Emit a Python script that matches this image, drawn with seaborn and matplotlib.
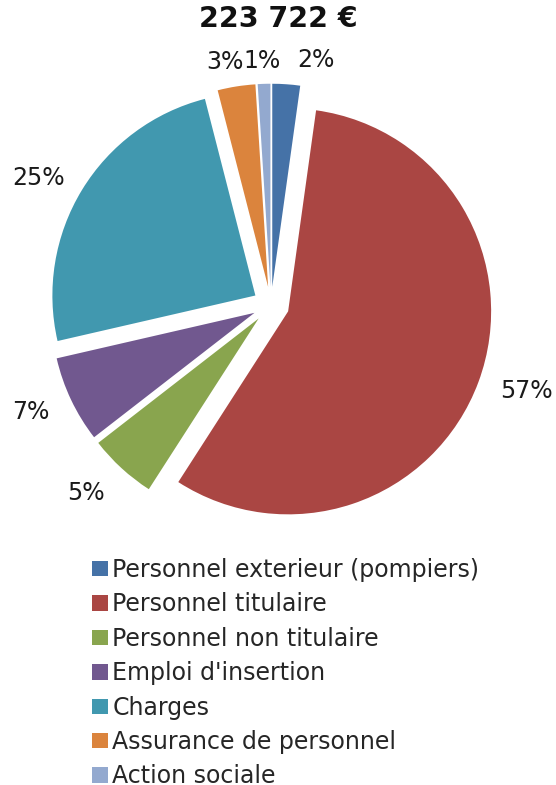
import numpy as np
import matplotlib
matplotlib.use('Agg')
import matplotlib.pyplot as plt
import seaborn as sns

sns.set_style('white')
plt.rcParams['font.family'] = ['DejaVu Sans']

# data (shares in %, total 223 722 €)
total_label = '223 722 €'
categories = ['Personnel exterieur (pompiers)', 'Personnel titulaire',
              'Personnel non titulaire', "Emploi d'insertion", 'Charges',
              'Assurance de personnel', 'Action sociale']
shares = [2.2, 56.9, 5.4, 6.9, 24.6, 3.0, 1.0]

colors = sns.color_palette(['#4572A7', '#AA4643', '#89A54E', '#71588F',
                            '#4198AF', '#DB843D', '#93A9CF'])

# label placement (style): radius factor and angular nudge per slice
label_radius = [1.14, 1.235, 1.21, 1.205, 1.215, 1.13, 1.115]
label_turn = [-7.0, 1.9, -2.1, -1.5, 3.0, 1.8, 0.3]

W, H = 556, 785
R = 203.0   # pie radius in px
cx, cy = 271, 305  # pie center in px from top-left
half = 1.35

fig = plt.figure(figsize=(W / 100, H / 100), dpi=100)
ax = fig.add_axes([(cx - half * R) / W, (H - cy - half * R) / H,
                   2 * half * R / W, 2 * half * R / H])

wedges, texts, autotexts = ax.pie(
    shares, colors=colors, startangle=90, counterclock=False,
    explode=[0.09] * len(shares), autopct='%1.0f%%', pctdistance=1.2,
    textprops=dict(fontsize=17, color='#1a1a1a'),
    wedgeprops=dict(linewidth=0))

for w, t, rr, dt in zip(wedges, autotexts, label_radius, label_turn):
    ang = np.radians((w.theta1 + w.theta2) / 2 + dt)
    x0, y0 = w.center
    t.set_position((x0 + rr * np.cos(ang), y0 + rr * np.sin(ang)))
    t.set_ha('center')
    t.set_va('center')

ax.set_xlim(-half, half)
ax.set_ylim(-half, half)
ax.set_aspect('equal')
ax.axis('off')

fig.text(0.5 * (198 + 358) / W, 1 - 19 / H, total_label, ha='center',
         va='center', fontsize=20.5, fontweight='bold', color='#111111')

fig.legend(wedges, categories, loc='upper left',
           bbox_to_anchor=(91.5 / W, 1 - 558 / H), frameon=False,
           fontsize=17, handlelength=0.68, handleheight=0.62,
           handletextpad=0.2, labelspacing=0.44, borderpad=0,
           borderaxespad=0)

fig.savefig('out.png', dpi=100)
